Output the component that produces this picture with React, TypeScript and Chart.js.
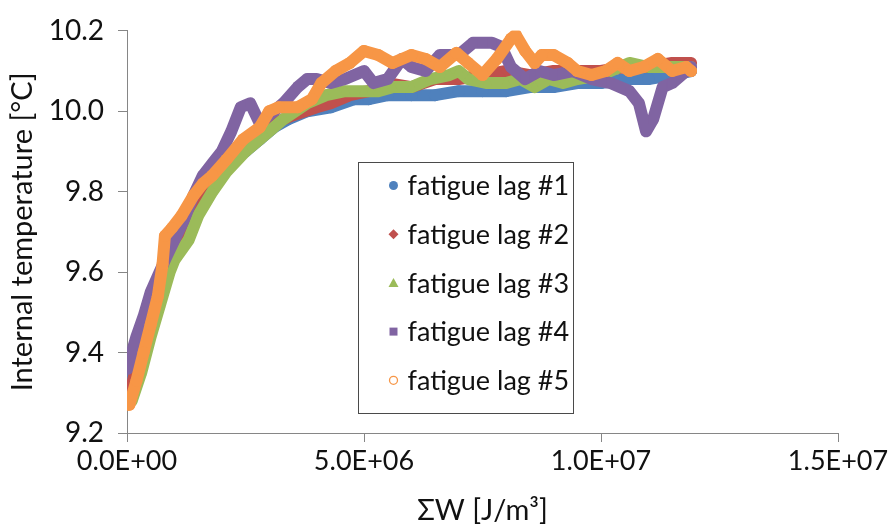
import React, { useEffect, useRef } from "react";
import { Chart, registerables } from "chart.js";

Chart.register(...registerables);

// ---- data (x in units of 1E+06 J/m^3, y in °C) ----
const SERIES_LABELS = ["fatigue lag #1", "fatigue lag #2", "fatigue lag #3", "fatigue lag #4", "fatigue lag #5"];
const SERIES_COLORS = ["#4F81BD", "#C0504D", "#9BBB59", "#8064A2", "#F79646"];
const SERIES_POINT_STYLES = ["circle", "rectRot", "triangle", "rect", "circle"];

const X_TICKS = [0, 5e6, 1e7, 1.5e7];
const Y_TICKS = [9.2, 9.4, 9.6, 9.8, 10.0, 10.2];

const lag1W = [0.05, 0.2, 0.4, 0.6, 0.8, 1.0, 1.2, 1.5, 1.8, 2.1, 2.5, 2.8, 3.1, 3.4, 3.8, 4.3, 4.8, 5.1, 5.5, 6.0, 6.5, 7.0, 7.5, 8.0, 8.5, 9.0, 9.5, 10.0, 10.5, 11.0, 11.5, 11.9];
const lag1T = [9.30, 9.38, 9.47, 9.56, 9.63, 9.68, 9.72, 9.78, 9.83, 9.87, 9.90, 9.93, 9.96, 9.98, 10.00, 10.01, 10.03, 10.03, 10.04, 10.04, 10.04, 10.05, 10.05, 10.05, 10.06, 10.06, 10.07, 10.07, 10.08, 10.08, 10.09, 10.10];

const lag2W = [0.05, 0.3, 0.6, 0.9, 1.2, 1.5, 1.9, 2.3, 2.7, 3.1, 3.5, 4.0, 4.3, 4.7, 5.1, 5.5, 6.0, 6.5, 7.0, 7.5, 8.0, 8.5, 9.0, 9.5, 10.0, 10.5, 11.0, 11.5, 11.9];
const lag2T = [9.29, 9.42, 9.55, 9.65, 9.72, 9.78, 9.85, 9.90, 9.94, 9.97, 9.99, 10.01, 10.02, 10.04, 10.05, 10.07, 10.06, 10.08, 10.08, 10.09, 10.10, 10.09, 10.10, 10.10, 10.10, 10.11, 10.11, 10.12, 10.12];

const lag3W = [0.1, 0.3, 0.5, 0.7, 0.9, 1.0, 1.3, 1.5, 1.8, 2.1, 2.5, 2.9, 3.3, 3.8, 4.2, 4.6, 5.0, 5.3, 5.6, 6.0, 6.4, 6.8, 7.0, 7.2, 7.6, 8.0, 8.3, 8.6, 8.9, 9.2, 9.5, 10.0, 10.6, 11.0, 11.5, 11.9];
const lag3T = [9.28, 9.35, 9.44, 9.52, 9.60, 9.63, 9.68, 9.74, 9.80, 9.85, 9.90, 9.94, 9.98, 10.02, 10.04, 10.05, 10.05, 10.05, 10.06, 10.06, 10.08, 10.09, 10.10, 10.08, 10.07, 10.07, 10.08, 10.06, 10.08, 10.07, 10.08, 10.09, 10.12, 10.11, 10.11, 10.11];

const lag4W = [0.02, 0.1, 0.2, 0.35, 0.5, 0.65, 0.8, 1.0, 1.2, 1.4, 1.6, 1.8, 2.0, 2.2, 2.4, 2.6, 2.8, 3.0, 3.3, 3.6, 3.8, 4.0, 4.3, 4.6, 5.0, 5.2, 5.5, 5.8, 6.0, 6.3, 6.6, 7.0, 7.3, 7.7, 7.9, 8.1, 8.4, 8.7, 9.0, 9.4, 9.8, 10.2, 10.6, 10.8, 10.95, 11.1, 11.3, 11.5, 11.8, 11.9];
const lag4T = [9.36, 9.40, 9.44, 9.49, 9.55, 9.59, 9.63, 9.68, 9.73, 9.79, 9.84, 9.87, 9.90, 9.95, 10.01, 10.02, 9.97, 9.99, 10.02, 10.06, 10.08, 10.08, 10.07, 10.08, 10.10, 10.07, 10.08, 10.13, 10.11, 10.10, 10.14, 10.14, 10.17, 10.17, 10.16, 10.11, 10.08, 10.10, 10.09, 10.10, 10.08, 10.07, 10.05, 10.02, 9.95, 9.98, 10.06, 10.07, 10.10, 10.11];

const lag5W = [0.05, 0.2, 0.35, 0.5, 0.65, 0.75, 0.8, 0.95, 1.15, 1.4, 1.6, 1.8, 2.1, 2.45, 2.8, 3.0, 3.2, 3.6, 3.9, 4.1, 4.4, 4.7, 5.0, 5.3, 5.6, 6.0, 6.3, 6.6, 6.95, 7.2, 7.5, 7.8, 8.1, 8.2, 8.4, 8.6, 8.75, 9.0, 9.3, 9.5, 9.8, 10.1, 10.35, 10.6, 10.9, 11.2, 11.5, 11.8, 11.9];
const lag5T = [9.27, 9.33, 9.40, 9.47, 9.54, 9.62, 9.69, 9.71, 9.74, 9.79, 9.82, 9.84, 9.88, 9.93, 9.96, 10.00, 10.01, 10.01, 10.03, 10.07, 10.10, 10.12, 10.15, 10.14, 10.12, 10.14, 10.13, 10.11, 10.145, 10.12, 10.09, 10.13, 10.18, 10.19, 10.15, 10.12, 10.14, 10.14, 10.12, 10.10, 10.09, 10.10, 10.12, 10.10, 10.11, 10.13, 10.10, 10.11, 10.10];

const SERIES_W = [lag1W, lag2W, lag3W, lag4W, lag5W];
const SERIES_T = [lag1T, lag2T, lag3T, lag4T, lag5T];
const W_UNIT = 1e6;

const FONT = "Lato, 'Open Sans', sans-serif";
const AXIS_GRAY = "#868686";
const TEXT = "#111111";

function fmtE(v: number): string {
  const [m, e] = Number(v).toExponential(1).split("e");
  const n = parseInt(e, 10);
  return m + "E" + (n < 0 ? "-" : "+") + String(Math.abs(n)).padStart(2, "0");
}

const legendPlugin = {
  id: "insideLegend",
  afterDraw(chart: any) {
    const ctx = chart.ctx as CanvasRenderingContext2D;
    const ca = chart.chartArea;
    const w = ca.right - ca.left;
    const h = ca.bottom - ca.top;
    const bx = Math.round(ca.left + 0.325 * w) + 0.5;
    const by = Math.round(ca.top + 0.326 * h) + 0.5;
    const bw = Math.round(0.302 * w);
    const bh = Math.round(0.625 * h);
    ctx.save();
    ctx.fillStyle = "#ffffff";
    ctx.fillRect(bx, by, bw, bh);
    ctx.strokeStyle = "#4a4a4a";
    ctx.lineWidth = 1;
    ctx.strokeRect(bx, by, bw, bh);
    ctx.font = `27px ${FONT}`;
    ctx.textBaseline = "middle";
    ctx.textAlign = "left";
    chart.data.datasets.forEach((ds: any, i: number) => {
      const cy = by + 23 + i * 48.7;
      const cx = bx + 35;
      const col = ds.legendColor;
      ctx.fillStyle = col;
      ctx.strokeStyle = col;
      ctx.beginPath();
      if (i === 0) {
        ctx.arc(cx, cy, 4.5, 0, Math.PI * 2);
        ctx.fill();
      } else if (i === 1) {
        ctx.moveTo(cx, cy - 5); ctx.lineTo(cx + 5, cy); ctx.lineTo(cx, cy + 5); ctx.lineTo(cx - 5, cy); ctx.closePath();
        ctx.fill();
      } else if (i === 2) {
        ctx.moveTo(cx, cy - 5); ctx.lineTo(cx + 5, cy + 4); ctx.lineTo(cx - 5, cy + 4); ctx.closePath();
        ctx.fill();
      } else if (i === 3) {
        ctx.rect(cx - 4, cy - 4, 8, 8);
        ctx.fill();
      } else {
        ctx.lineWidth = 1.3;
        ctx.arc(cx, cy, 4, 0, Math.PI * 2);
        ctx.stroke();
      }
      ctx.fillStyle = TEXT;
      ctx.fillText(ds.label, bx + 49, cy + 1);
    });
    ctx.restore();
  },
};

export default function App() {
  const ref = useRef<HTMLCanvasElement | null>(null);

  useEffect(() => {
    if (!ref.current) return;
    const datasets = SERIES_LABELS.map((label, i) => ({
      label,
      legendColor: SERIES_COLORS[i],
      data: SERIES_W[i].map((w, k) => ({ x: w * W_UNIT, y: SERIES_T[i][k] })),
      showLine: true,
      borderColor: SERIES_COLORS[i],
      backgroundColor: SERIES_COLORS[i],
      borderWidth: 12,
      borderJoinStyle: "round" as const,
      borderCapStyle: "round" as const,
      pointStyle: SERIES_POINT_STYLES[i],
      pointRadius: 6,
      pointBorderWidth: 0,
      tension: 0,
      order: SERIES_LABELS.length - i,
    }));

    const chart = new Chart(ref.current, {
      type: "scatter",
      data: { datasets: datasets as any },
      plugins: [legendPlugin],
      options: {
        animation: false,
        responsive: false,
        maintainAspectRatio: false,
        layout: { padding: { top: 28, right: 56, left: 0, bottom: 0 } },
        plugins: { legend: { display: false }, tooltip: { enabled: false } },
        scales: {
          x: {
            type: "linear",
            min: X_TICKS[0],
            max: X_TICKS[X_TICKS.length - 1],
            afterBuildTicks: (s: any) => { s.ticks = X_TICKS.map((v) => ({ value: v })); },
            afterFit: (s: any) => { s.height = 95; },
            ticks: { callback: (v: any) => fmtE(Number(v)), font: { family: FONT, size: 27 }, color: TEXT, padding: 3, maxRotation: 0 },
            grid: { drawOnChartArea: false, drawTicks: true, tickLength: 9, color: AXIS_GRAY },
            border: { color: AXIS_GRAY, width: 1 },
            title: { display: true, text: "ΣW [J/m³]", font: { family: FONT, size: 29 }, color: TEXT, padding: { top: 3, bottom: 0 } },
          },
          y: {
            type: "linear",
            min: Y_TICKS[0],
            max: Y_TICKS[Y_TICKS.length - 1],
            afterBuildTicks: (s: any) => { s.ticks = Y_TICKS.map((v) => ({ value: v })); },
            afterFit: (s: any) => { s.width = 127; },
            ticks: { callback: (v: any) => Number(v).toFixed(1), font: { family: FONT, size: 28 }, color: TEXT, padding: 14 },
            grid: { drawOnChartArea: false, drawTicks: true, tickLength: 9, color: AXIS_GRAY },
            border: { color: AXIS_GRAY, width: 1 },
            title: { display: true, text: "Internal temperature [°C]", font: { family: FONT, size: 29 }, color: TEXT, padding: { top: 5, bottom: 0 } },
          },
        },
      } as any,
    });
    return () => chart.destroy();
  }, []);

  return (
    <div style={{ position: "absolute", left: 0, top: 0, width: 894, height: 528, background: "#fff" }}>
      <canvas ref={ref} width={894} height={528} style={{ display: "block", width: 894, height: 528 }} />
    </div>
  );
}
